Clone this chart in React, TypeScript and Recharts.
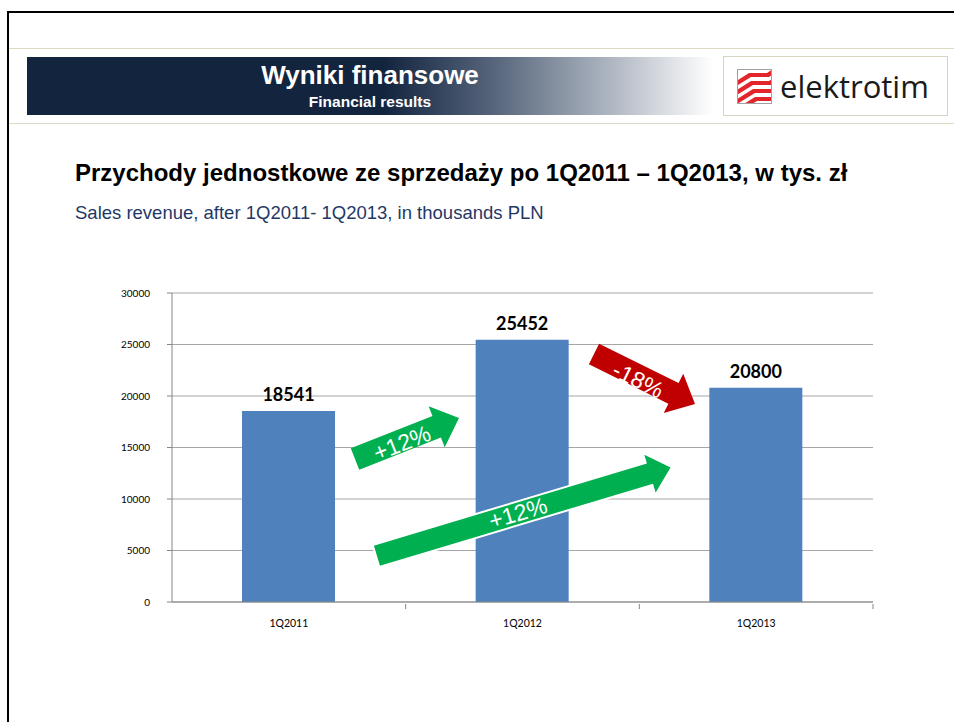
import { BarChart, Bar, XAxis, YAxis, CartesianGrid, LabelList } from "recharts";

const categories = ["1Q2011", "1Q2012", "1Q2013"];
const revenue = [18541, 25452, 20800];
const yTicks = [0, 5000, 10000, 15000, 20000, 25000, 30000];

// annotation arrows: [tailX, tailY, tipX, tipY], colour, label
const arrows = [
  { from: [355, 459], to: [459, 418], color: "#00b050", text: "+12%", tx: 402, ty: 443, outline: false },
  { from: [376, 556], to: [672, 467], color: "#00b050", text: "+12%", tx: 518, ty: 513, outline: true },
  { from: [594, 354], to: [695, 404], color: "#c00000", text: "-18%", tx: 638, ty: 380, outline: false },
];

const CHART_W = 900;
const CHART_H = 380;
const MARGIN = { top: 33, right: 27, bottom: 8, left: 112 };
const Y_AXIS_W = 60;
const BAND = (CHART_W - MARGIN.left - MARGIN.right - Y_AXIS_W) / categories.length;

const chartData = categories.map((name, i) => ({ name, value: revenue[i] }));

const AXIS = "#868686";
const SANS = "'Liberation Sans', Arial, sans-serif";
const CALIBRI = "Lato, 'Open Sans', sans-serif";

function arrowPoints(from: number[], to: number[], sw = 23, hw = 44, hl = 24) {
  const [x1, y1] = from;
  const [x2, y2] = to;
  const L = Math.hypot(x2 - x1, y2 - y1);
  const ux = (x2 - x1) / L;
  const uy = (y2 - y1) / L;
  const nx = -uy;
  const ny = ux;
  const bx = x2 - ux * hl;
  const by = y2 - uy * hl;
  const pts = [
    [x1 + (nx * sw) / 2, y1 + (ny * sw) / 2],
    [bx + (nx * sw) / 2, by + (ny * sw) / 2],
    [bx + (nx * hw) / 2, by + (ny * hw) / 2],
    [x2, y2],
    [bx - (nx * hw) / 2, by - (ny * hw) / 2],
    [bx - (nx * sw) / 2, by - (ny * sw) / 2],
    [x1 - (nx * sw) / 2, y1 - (ny * sw) / 2],
  ];
  return pts.map((p) => p.join(",")).join(" ");
}

function XTick(props: any) {
  const { x, y, payload, index } = props;
  return (
    <g>
      {index > 0 && <line x1={x - BAND / 2} x2={x - BAND / 2} y1={y} y2={y + 5} stroke={AXIS} />}
      {index === categories.length - 1 && (
        <line x1={x + BAND / 2} x2={x + BAND / 2} y1={y} y2={y + 5} stroke={AXIS} />
      )}
      <text x={x} y={y + 19} textAnchor="middle" dominantBaseline="central" fontSize={10.5} fontFamily={CALIBRI} fill="#000">
        {payload.value}
      </text>
    </g>
  );
}

function Logo() {
  return (
    <div
      style={{
        position: "absolute",
        left: 723,
        top: 56,
        width: 225,
        height: 60,
        border: "1px solid #d9d4bf",
        background: "#fff",
        boxSizing: "border-box",
      }}
    >
      <svg width={40} height={40} style={{ position: "absolute", left: 13, top: 12 }}>
        <defs>
          <clipPath id="logoClip">
            <rect x={1} y={1} width={33} height={33} />
          </clipPath>
        </defs>
        <rect x={0.5} y={0.5} width={34} height={34} fill="#fff" stroke="#a0a0a0" />
        <g clipPath="url(#logoClip)" fill="#e3262b">
          {[0, 1, 2, 3].map((k) => (
            <polygon
              key={k}
              points={`${-4 + k * 2},${14 + k * 8} ${12 + k * 2},${4 + k * 8} ${30 + k * 2},${4 + k * 8} ${36 + k * 2},${0 + k * 8} ${36 + k * 2},${5 + k * 8} ${32 + k * 2},${8 + k * 8} ${14 + k * 2},${8 + k * 8} ${-4 + k * 2},${19 + k * 8}`}
            />
          ))}
        </g>
      </svg>
      <div
        style={{
          position: "absolute",
          left: 56,
          top: 8,
          fontFamily: "'Open Sans', Lato, sans-serif",
          fontSize: 31,
          color: "#1a1a1a",
        }}
      >
        elektrotim
      </div>
    </div>
  );
}

export default function App() {
  return (
    <div style={{ position: "absolute", left: 0, top: 0, width: 954, height: 722, overflow: "hidden", background: "#fff" }}>
      {/* slide frame */}
      <div style={{ position: "absolute", left: 7, top: 11, width: 1000, height: 800, border: "2px solid #000" }} />
      <div style={{ position: "absolute", left: 9, top: 48, width: 945, height: 1, background: "#ddd9c3" }} />
      <div style={{ position: "absolute", left: 9, top: 123, width: 945, height: 1, background: "#ddd9c3" }} />

      {/* header banner */}
      <div
        style={{
          position: "absolute",
          left: 27,
          top: 57,
          width: 686,
          height: 58,
          background: "linear-gradient(to right, #13243f 0%, #13243f 52%, #56657b 68%, #a9b1bd 84%, #ffffff 100%)",
          fontFamily: SANS,
          color: "#fff",
          textAlign: "center",
        }}
      >
        <div style={{ position: "absolute", left: 0, width: 686, top: 3, fontSize: 26, fontWeight: "bold" }}>
          Wyniki finansowe
        </div>
        <div style={{ position: "absolute", left: 0, width: 686, top: 36, fontSize: 15.5, fontWeight: "bold" }}>
          Financial results
        </div>
      </div>
      <Logo />

      <div style={{ position: "absolute", left: 75, top: 159, fontFamily: SANS, fontSize: 24, fontWeight: "bold", color: "#000" }}>
        Przychody jednostkowe ze sprzedaży po 1Q2011 – 1Q2013, w tys. zł
      </div>
      <div style={{ position: "absolute", left: 75, top: 202, fontFamily: SANS, fontSize: 18.5, color: "#1f3864" }}>
        Sales revenue, after 1Q2011- 1Q2013, in thousands PLN
      </div>

      <div style={{ position: "absolute", left: 0, top: 260 }}>
        <BarChart width={CHART_W} height={CHART_H} data={chartData} margin={MARGIN}>
          <CartesianGrid vertical={false} stroke="#a6a6a6" />
          <XAxis dataKey="name" axisLine={{ stroke: AXIS }} tickLine={false} tickSize={0} tick={<XTick />} interval={0} />
          <YAxis
            width={Y_AXIS_W}
            domain={[0, 30000]}
            ticks={yTicks}
            interval={0}
            axisLine={{ stroke: AXIS }}
            tickLine={{ stroke: AXIS }}
            tickSize={5}
            tickMargin={17}
            tick={{ fontSize: 10, fill: "#000", fontFamily: CALIBRI }}
          />
          <Bar dataKey="value" fill="#4f81bd" barSize={93} isAnimationActive={false}>
            <LabelList
              dataKey="value"
              position="top"
              offset={10}
              style={{ fontSize: 18, fontWeight: "bold", fontFamily: CALIBRI, fill: "#000" }}
            />
          </Bar>
        </BarChart>
      </div>

      {/* growth arrows */}
      <svg width={954} height={722} style={{ position: "absolute", left: 0, top: 0, pointerEvents: "none" }}>
        {arrows.map((a, i) => {
          const angle = (Math.atan2(a.to[1] - a.from[1], a.to[0] - a.from[0]) * 180) / Math.PI;
          return (
            <g key={i}>
              <polygon
                points={arrowPoints(a.from, a.to)}
                fill={a.color}
                stroke={a.outline ? "#fff" : "none"}
                strokeWidth={a.outline ? 2 : 0}
              />
              <text
                x={a.tx}
                y={a.ty}
                transform={`rotate(${angle} ${a.tx} ${a.ty})`}
                textAnchor="middle"
                dominantBaseline="central"
                fontFamily={SANS}
                fontSize={23}
                fill="#fff"
              >
                {a.text}
              </text>
            </g>
          );
        })}
      </svg>
    </div>
  );
}
